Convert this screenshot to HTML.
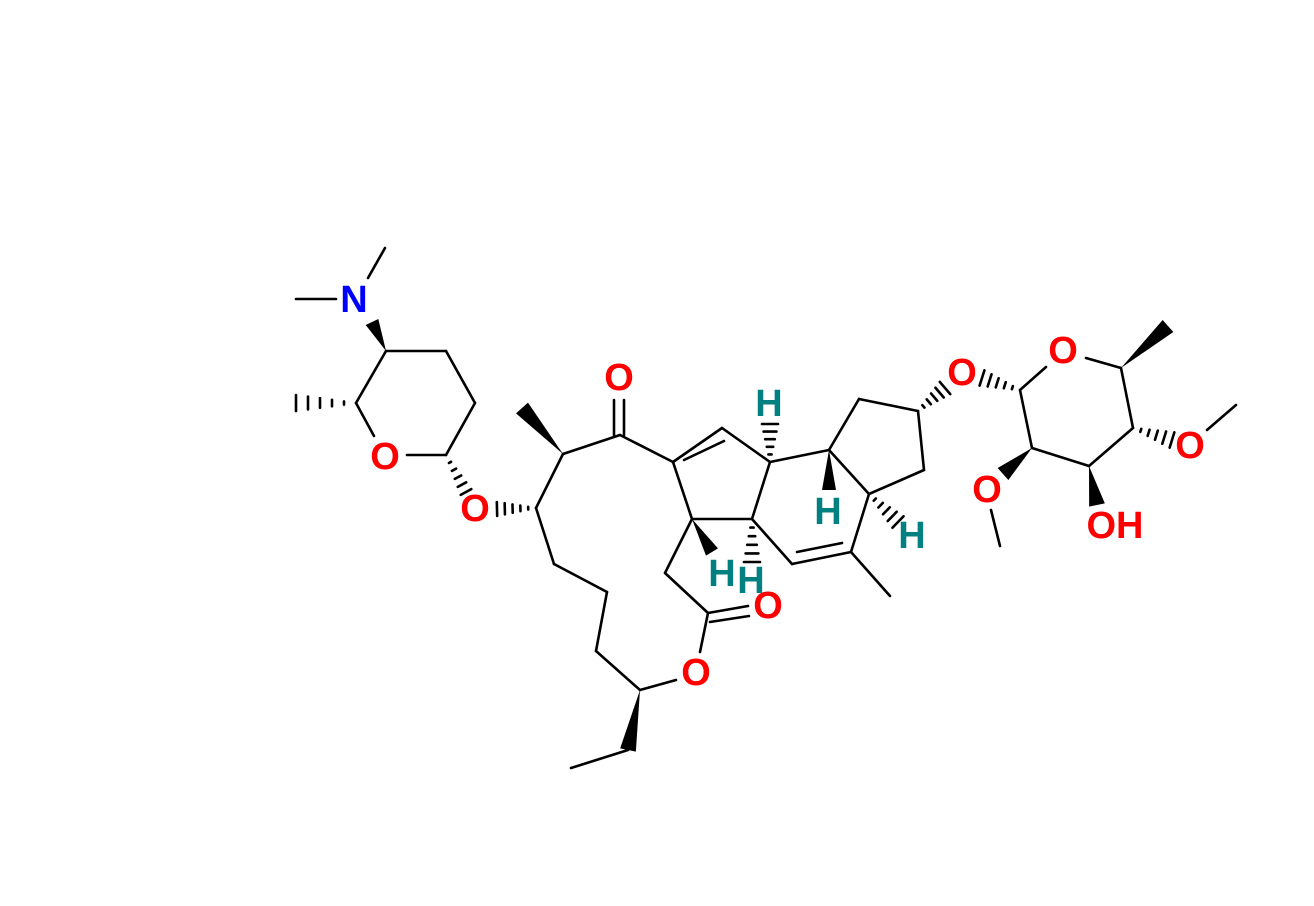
<!DOCTYPE html>
<html><head><meta charset="utf-8"><style>
html,body{margin:0;padding:0;background:#fff;}
svg{display:block}
text{font-family:"Liberation Sans",sans-serif;font-weight:bold;font-size:38px;text-anchor:middle;dominant-baseline:central}
.O{fill:#f00}.N{fill:#00f}.H{fill:#008080}
</style></head><body>
<svg id="s" width="1314" height="906" viewBox="0 0 1314 906">
<g id="b" stroke="#000" stroke-width="2.6" fill="none" stroke-linecap="round"></g>
<g id="w" fill="#000"></g>
<text x="354" y="300" class="N">N</text>
<text x="385" y="457" class="O">O</text>
<text x="475" y="509" class="O">O</text>
<text x="619" y="378" class="O">O</text>
<text x="768" y="606" class="O">O</text>
<text x="696" y="673" class="O">O</text>
<text x="962" y="373" class="O">O</text>
<text x="1063" y="351" class="O">O</text>
<text x="1190" y="446" class="O">O</text>
<text x="987" y="490" class="O">O</text>
<text x="1115" y="526" class="O">OH</text>
<text x="769" y="404" class="H">H</text>
<text x="828" y="512" class="H">H</text>
<text x="912" y="536" class="H">H</text>
<text x="722" y="574" class="H">H</text>
<text x="751" y="581" class="H">H</text>
</svg>
<script>
var NS="http://www.w3.org/2000/svg",b=document.getElementById('b'),w=document.getElementById('w');
function L(x1,y1,x2,y2){var e=document.createElementNS(NS,'line');e.setAttribute('x1',x1);e.setAttribute('y1',y1);e.setAttribute('x2',x2);e.setAttribute('y2',y2);b.appendChild(e);}
function W(x1,y1,x2,y2,wd){wd=wd||6;var dx=x2-x1,dy=y2-y1,l=Math.hypot(dx,dy),nx=-dy/l*wd,ny=dx/l*wd;var p=document.createElementNS(NS,'polygon');p.setAttribute('points',x1+','+y1+' '+(x2+nx)+','+(y2+ny)+' '+(x2-nx)+','+(y2-ny));w.appendChild(p);}
function Hs(x1,y1,x2,y2,wd){wd=wd||6;var dx=x2-x1,dy=y2-y1,l=Math.hypot(dx,dy),n=5;for(var i=1;i<=n;i++){var t=i/n,cx=x1+dx*t,cy=y1+dy*t,h=wd*t,nx=-dy/l*h,ny=dx/l*h;L(cx+nx,cy+ny,cx-nx,cy-ny);}}
L(368,278,385,248);L(296,299,336,299);W(386,351,372,322,7);
L(386,351,446,351);L(446,351,475,403);L(475,403,446,455);L(446,455,407,455);L(374,436,356,403);L(356,403,386,351);
Hs(356,403,296,403,8);Hs(446,455,466,492,6);
Hs(536,508,497,509,7);
L(536,508,563,454);W(563,454,522,408,8);L(563,454,620,435);L(614,435,614,400);L(624,435,624,400);
L(620,435,673,462);L(673,462,722,428);L(684,460,724,441);L(722,428,770,462);L(770,462,752,519);L(752,519,692,519);L(692,519,673,462);
W(692,519,712,552,7);L(692,519,665,573);L(665,573,708,613);L(708,613,748,606);L(710,622,749,616);L(708,613,700,652);
L(676,680,640,690);W(640,690,628,750,8);L(628,750,571,768);
L(640,690,596,651);L(596,651,607,592);L(607,592,554,564);L(554,564,536,508);
Hs(752,519,752,562,8);L(752,519,792,564);L(792,564,851,552);L(797,552,842,543);L(851,552,890,596);L(851,552,869,494);
L(869,494,829,450);L(829,450,770,462);W(829,450,829,490,7);Hs(770,462,770,424,8);
L(829,450,859,399);L(859,399,918,411);L(918,411,924,470);L(924,470,869,494);Hs(869,494,898,522,8);
Hs(918,411,945,388,8);Hs(1020,390,982,378,8);
L(1020,390,1046,367);L(1086,358,1121,368);W(1121,368,1168,326,8);L(1121,368,1133,428);Hs(1133,428,1172,440,8);L(1207,430,1236,405);
L(1133,428,1089,466);W(1089,466,1097,505,8);L(1089,466,1032,448);L(1032,448,1020,390);W(1032,448,1003,474,8);L(991,510,1000,546);
</script>
</body></html>
